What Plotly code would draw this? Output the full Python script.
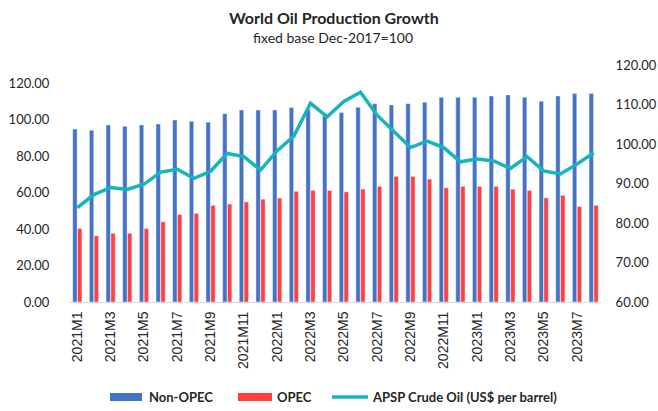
import plotly.graph_objects as go

months = [f"{y}M{m}" for y in (2021, 2022, 2023) for m in range(1, 13)][:32]

non_opec = [94.9, 94.2, 97.1, 96.4, 97.1, 97.6, 99.8, 99.1, 98.6, 103.3, 105.3, 105.3,
            105.3, 106.7, 105.5, 102.0, 103.9, 106.8, 108.7, 108.1, 108.8, 109.5, 112.3, 112.3,
            112.3, 113.0, 113.6, 112.3, 110.1, 113.0, 114.3, 114.3]
opec = [40.3, 36.3, 37.7, 37.7, 40.3, 44.0, 48.0, 48.6, 53.0, 53.7, 54.9, 56.4,
        57.0, 60.7, 61.2, 61.2, 60.4, 61.9, 63.4, 68.9, 68.9, 67.4, 62.6, 63.4,
        63.4, 63.4, 61.9, 61.2, 57.1, 58.5, 52.4, 53.0]
apsp = [83.9, 87.2, 89.0, 88.5, 89.8, 92.9, 93.6, 91.3, 93.1, 97.6, 96.8, 93.4,
        98.3, 102.0, 110.3, 106.9, 110.8, 113.1, 107.3, 103.3, 99.1, 100.7, 99.1, 95.5,
        96.2, 95.7, 93.8, 96.8, 93.2, 92.4, 94.9, 97.8]

left_ticks = [0, 20, 40, 60, 80, 100, 120]
right_ticks = [60, 70, 80, 90, 100, 110, 120]
x_ticks = months[::2]

BLUE, RED, TEAL = "#4472C4", "#FF4040", "#15B5BD"
FONT = "Lato, Carlito, Calibri, sans-serif"
W, H = 658, 411
LEFT, RIGHT = 69, 602
TOP, BOTTOM = 65, 302

def px_x(px):
    return (px - LEFT) / (RIGHT - LEFT)

def px_y(px):
    return (BOTTOM - px) / (BOTTOM - TOP)

fig = go.Figure()
fig.add_trace(go.Bar(x=months, y=non_opec, name="Non-OPEC", marker_color=BLUE))
fig.add_trace(go.Bar(x=months, y=opec, name="OPEC", marker_color=RED))
fig.add_trace(go.Scatter(x=months, y=apsp, name="APSP Crude Oil (US$ per barrel)",
                         mode="lines", line=dict(color=TEAL, width=3.5),
                         yaxis="y2"))

# custom legend (Excel-style wide swatches)
legend_items = [
    ("bar", BLUE, 110, 142, "Non-OPEC", 147),
    ("bar", RED, 238, 272, "OPEC", 275),
    ("line", TEAL, 332, 368, "APSP Crude Oil (US$ per barrel)", 370),
]
LEG_Y = 397
shapes, annotations = [], []
for kind, color, x0, x1, label, tx in legend_items:
    if kind == "bar":
        shapes.append(dict(type="rect", xref="paper", yref="paper",
                           x0=px_x(x0), x1=px_x(x1), y0=px_y(LEG_Y + 4), y1=px_y(LEG_Y - 4),
                           fillcolor=color, line_width=0))
    else:
        shapes.append(dict(type="line", xref="paper", yref="paper",
                           x0=px_x(x0), x1=px_x(x1), y0=px_y(LEG_Y), y1=px_y(LEG_Y),
                           line=dict(color=color, width=3.5)))
    annotations.append(dict(text=f"<b>{label}</b>", x=px_x(tx), xref="paper", xanchor="left",
                            y=px_y(LEG_Y), yref="paper", yanchor="middle", showarrow=False,
                            font=dict(family=FONT, size=13, color="#262626")))

annotations += [
    dict(text="<b>World Oil Production Growth</b>", x=px_x(334), xref="paper", xanchor="center",
         y=px_y(17), yref="paper", yanchor="middle", showarrow=False,
         font=dict(family=FONT, size=16, color="#262626")),
    dict(text="fixed base Dec-2017=100", x=px_x(333), xref="paper", xanchor="center",
         y=px_y(37), yref="paper", yanchor="middle", showarrow=False,
         font=dict(family=FONT, size=14, color="#262626")),
]

fig.update_layout(
    width=W, height=H,
    margin=dict(l=LEFT, r=W - RIGHT, t=TOP, b=H - BOTTOM, autoexpand=False),
    paper_bgcolor="white", plot_bgcolor="white",
    font=dict(family=FONT, size=13, color="#262626"),
    barmode="group", bargap=0.42, bargroupgap=0.1,
    showlegend=False,
    xaxis=dict(type="category", tickmode="array", tickvals=x_ticks, ticktext=x_ticks,
               tickangle=-90, showline=True, linecolor="#D9D9D9", linewidth=1,
               showgrid=False, ticks="outside", ticklen=3, tickcolor="white",
               automargin=False,
               tickfont=dict(family="Liberation Sans, Arial, sans-serif", size=14, color="#262626"),
               range=[-0.5, 31.5]),
    yaxis=dict(range=[0, 130], tickvals=left_ticks, tickformat=".2f", showgrid=False,
               zeroline=False, showline=False, ticks="outside", ticklen=16, tickcolor="white",
               automargin=False,
               tickfont=dict(family=FONT, size=13, color="#262626")),
    yaxis2=dict(range=[60, 120], tickvals=right_ticks, tickformat=".2f", overlaying="y",
                side="right", showgrid=False, zeroline=False, showline=False,
                ticks="outside", ticklen=10, tickcolor="white", automargin=False,
                tickfont=dict(family=FONT, size=13, color="#262626")),
    shapes=shapes,
    annotations=annotations,
)

fig.write_html("out.html", config={"displayModeBar": False},
               post_script="document.body.style.margin='0';document.body.style.padding='0';")
